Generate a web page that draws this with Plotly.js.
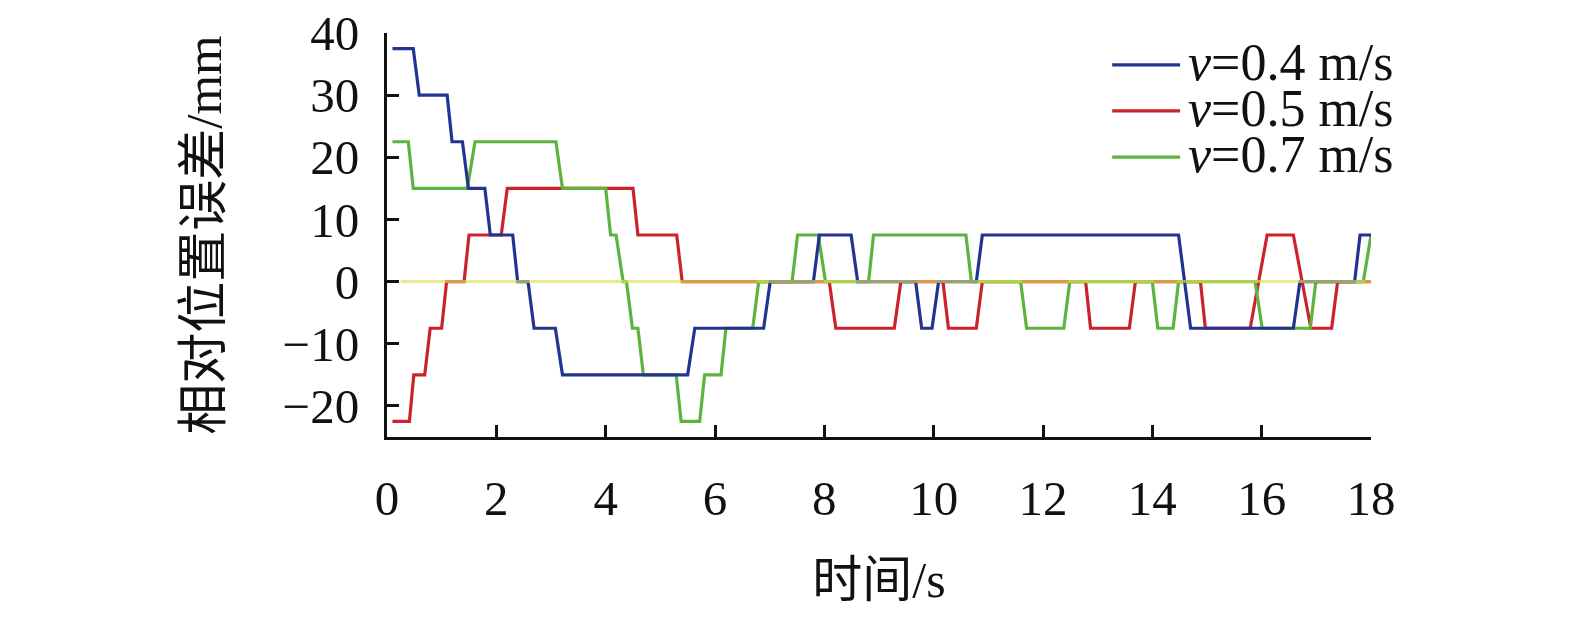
<!DOCTYPE html>
<html lang="zh">
<head>
    <meta charset="UTF-8">
    <title>相对位置误差</title>
    <script src="https://cdn.plot.ly/plotly-3.0.1.min.js"></script>
    <style>
        body { margin: 0; background: #fff; }
        #myDiv { width: 1575px; height: 620px; }
    </style>
</head>
<body>
    <div id="myDiv"></div>
    <script>
        // values (time in s, error in mm)
        var names = ['<i>v</i>=0.4 m/s', '<i>v</i>=0.5 m/s', '<i>v</i>=0.7 m/s']
        var colors = ['rgb(34,52,145)', 'rgb(204,34,44)', 'rgb(92,180,62)']

        var t04 = [0.10, 0.48, 0.59, 1.10, 1.19, 1.38, 1.49, 1.79, 1.89, 2.30, 2.39, 2.58, 2.69, 3.08, 3.21, 5.50, 5.63, 6.89,
                   7.01, 7.80, 7.91, 8.49, 8.61, 9.67, 9.78, 9.97, 10.09, 10.78, 10.89, 14.48, 14.70, 16.58, 16.70, 17.70, 17.80, 18.0]
        var e04 = [37.5, 37.5, 30, 30, 22.5, 22.5, 15, 15, 7.5, 7.5, 0, 0, -7.5, -7.5, -15, -15, -7.5, -7.5,
                   0, 0, 7.5, 7.5, 0, 0, -7.5, -7.5, 0, 0, 7.5, 7.5, -7.5, -7.5, 0, 0, 7.5, 7.5]

        var t05 = [0.10, 0.41, 0.49, 0.69, 0.79, 1.00, 1.09, 1.41, 1.50, 2.09, 2.20, 4.50, 4.59, 5.30, 5.40, 8.09, 8.21, 9.28,
                   9.40, 10.17, 10.27, 10.78, 10.89, 12.78, 12.87, 13.58, 13.69, 14.88, 14.97, 15.79, 16.10, 16.58, 16.90, 17.28, 17.39, 18.0]
        var e05 = [-22.5, -22.5, -15, -15, -7.5, -7.5, 0, 0, 7.5, 7.5, 15, 15, 7.5, 7.5, 0, 0, -7.5, -7.5,
                   0, 0, -7.5, -7.5, 0, 0, -7.5, -7.5, 0, 0, -7.5, -7.5, 7.5, 7.5, -7.5, -7.5, 0, 0]

        var t07 = [0.10, 0.39, 0.48, 1.47, 1.61, 3.09, 3.21, 4.00, 4.09, 4.19, 4.32, 4.38, 4.49, 4.59, 4.69, 5.29, 5.38, 5.72,
                   5.81, 6.11, 6.20, 6.69, 6.80, 7.41, 7.51, 7.89, 8.02, 8.81, 8.90, 10.59, 10.69, 11.59, 11.70, 12.38, 12.49,
                   14.00, 14.10, 14.38, 14.48, 15.88, 16.01, 16.89, 16.99, 17.86, 18.0]
        var e07 = [22.5, 22.5, 15, 15, 22.5, 22.5, 15, 15, 7.5, 7.5, 0, 0, -7.5, -7.5, -15, -15, -22.5, -22.5,
                   -15, -15, -7.5, -7.5, 0, 0, 7.5, 7.5, 0, 0, 7.5, 7.5, 0, 0, -7.5, -7.5, 0,
                   0, -7.5, -7.5, 0, 0, -7.5, -7.5, 0, 0, 7.5]

        // zero reference line (yellow)
        var tRef = [0.25, 18.0]
        var eRef = [0, 0]

        var xTicks = [0, 2, 4, 6, 8, 10, 12, 14, 16, 18]
        var yTicks = [-20, -10, 0, 10, 20, 30, 40]

        var serif = 'Liberation Serif, Times New Roman, Noto Sans CJK SC, serif'

        function line(x, y, color, w) {
            return { x: x, y: y, type: 'scatter', mode: 'lines', showlegend: false, hoverinfo: 'skip',
                     line: { color: color, width: w } }
        }

        // drawing order: red, green, blue, then the zero line on top
        var data = [
            line(t05, e05, colors[1], 3.2),
            line(t07, e07, colors[2], 3.2),
            line(t04, e04, colors[0], 3.2),
            Object.assign(line(tRef, eRef, 'rgb(222,222,80)', 3), { opacity: 0.65 })
        ]

        // legend drawn by hand so rows sit as tight as in the figure
        var rowsY = [0.921, 0.807, 0.693]
        var shapes = []
        var annotations = []
        for (let i = 0; i < names.length; i++) {
            shapes.push({ type: 'line', xref: 'paper', yref: 'paper', x0: 0.737, x1: 0.806, y0: rowsY[i], y1: rowsY[i],
                          line: { color: colors[i], width: 3.2 } })
            annotations.push({ xref: 'paper', yref: 'paper', x: 0.812, y: rowsY[i] + 0.006, xanchor: 'left', yanchor: 'middle',
                               text: names[i], showarrow: false, font: { family: serif, size: 52, color: '#111' } })
        }

        var axisBase = {
            showline: true, linecolor: '#111', linewidth: 3, mirror: false,
            ticks: 'inside', ticklen: 12, tickwidth: 3, tickcolor: '#111',
            showgrid: false, zeroline: false,
            tickfont: { family: serif, size: 49, color: '#111' }
        }

        var layout = {
            width: 1575, height: 620,
            margin: { l: 387, r: 204, t: 33, b: 183 },
            paper_bgcolor: '#fff', plot_bgcolor: '#fff',
            xaxis: Object.assign({}, axisBase, {
                range: [0, 18], tickvals: xTicks, ticklabelstandoff: 16,
                title: { text: '时间/s', font: { family: serif, size: 50, color: '#111' }, standoff: 38 }
            }),
            yaxis: Object.assign({}, axisBase, {
                range: [-25, 40], tickvals: yTicks, ticklabelstandoff: 15,
                title: { text: '相对位置误差/mm', font: { family: serif, size: 51, color: '#111' }, standoff: 45 }
            }),
            shapes: shapes,
            annotations: annotations
        }

        Plotly.newPlot('myDiv', data, layout, { displayModeBar: false, staticPlot: true })
    </script>
</body>
</html>
